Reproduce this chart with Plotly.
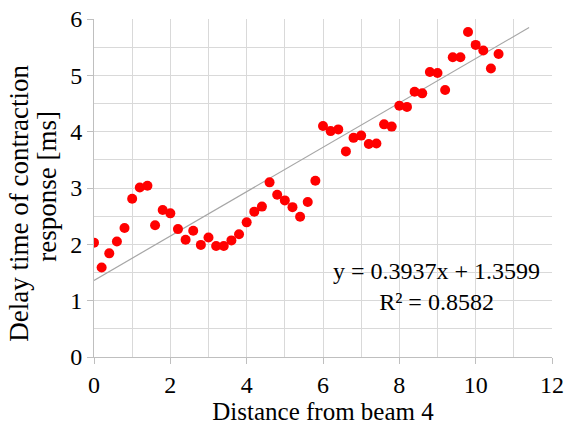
import plotly.graph_objects as go

# distance from beam 4 and measured delay time [ms]
distance = [0.0, 0.2, 0.4, 0.6, 0.8, 1.0, 1.2, 1.4, 1.6, 1.8,
            2.0, 2.2, 2.4, 2.6, 2.8, 3.0, 3.2, 3.4, 3.6, 3.8,
            4.0, 4.2, 4.4, 4.6, 4.8, 5.0, 5.2, 5.4, 5.6, 5.8,
            6.0, 6.2, 6.4, 6.6, 6.8, 7.0, 7.2, 7.4, 7.6, 7.8,
            8.0, 8.2, 8.4, 8.6, 8.8, 9.0, 9.2, 9.4, 9.6, 9.8,
            10.0, 10.2, 10.4, 10.6]
delay = [2.03, 1.59, 1.84, 2.05, 2.29, 2.81, 3.01, 3.04, 2.34, 2.61,
         2.55, 2.27, 2.08, 2.24, 1.99, 2.12, 1.97, 1.97, 2.07, 2.18,
         2.39, 2.58, 2.67, 3.10, 2.88, 2.78, 2.66, 2.49, 2.75, 3.13,
         4.10, 4.01, 4.04, 3.65, 3.89, 3.93, 3.78, 3.79, 4.13, 4.09,
         4.46, 4.44, 4.71, 4.68, 5.06, 5.04, 4.74, 5.32, 5.32, 5.77,
         5.54, 5.44, 5.12, 5.38]

# linear trendline
slope = 0.3937
intercept = 1.3599
r2 = 0.8582
trend_x = [0, 11.4]
trend_y = [slope * x + intercept for x in trend_x]

FONT = "Liberation Serif"

fig = go.Figure()
fig.add_trace(go.Scatter(x=trend_x, y=trend_y, mode='lines',
                         line=dict(color='#a6a6a6', width=1.2),
                         showlegend=False, hoverinfo='skip'))
fig.add_trace(go.Scatter(x=distance, y=delay, mode='markers',
                         marker=dict(color='#ff0000', size=10),
                         showlegend=False))

fig.add_annotation(text="y = %.4fx + %.4f<br>R² = %.4f" % (slope, intercept, r2),
                   x=8.97, y=1.26, xref='x', yref='y', showarrow=False,
                   font=dict(family=FONT, size=24, color='black'), align='center')

# y title, one annotation per line (tighter line spacing than plotly's default)
ytitle = dict(xref='paper', yref='paper', xanchor='center', yanchor='middle',
              textangle=-90, showarrow=False,
              font=dict(family=FONT, size=27, color='black'))
fig.add_annotation(text='Delay time of contraction', x=-0.164, y=0.456, **ytitle)
fig.add_annotation(text='response [ms]', x=-0.103, y=0.506, **ytitle)

fig.update_xaxes(range=[0, 12], dtick=2, tick0=0,
                 showgrid=True, gridcolor='#d9d9d9', gridwidth=1,
                 minor=dict(dtick=1, showgrid=True, gridcolor='#d9d9d9'),
                 showline=True, linecolor='#bfbfbf',
                 ticks='outside', ticklen=6, tickcolor='#bfbfbf',
                 zeroline=False, automargin=False,
                 tickfont=dict(family=FONT, size=24, color='black'),
                 title=dict(text='Distance from beam 4', standoff=0,
                            font=dict(family=FONT, size=25, color='black')))
fig.update_yaxes(range=[0, 6], dtick=1, tick0=0,
                 showgrid=True, gridcolor='#d9d9d9', gridwidth=1,
                 minor=dict(dtick=0.5, showgrid=True, gridcolor='#d9d9d9'),
                 showline=True, linecolor='#bfbfbf',
                 ticks='outside', ticklen=6, tickcolor='#bfbfbf',
                 zeroline=False, automargin=False,
                 tickfont=dict(family=FONT, size=24, color='black'))

fig.update_layout(width=564, height=425,
                  margin=dict(l=94, r=12, t=19, b=68),
                  plot_bgcolor='white', paper_bgcolor='white')

# page has a default 8px body margin; drop it so the figure fills the window
fig.write_html("out.html", config={'displayModeBar': False},
               post_script="document.body.style.margin='0';")
